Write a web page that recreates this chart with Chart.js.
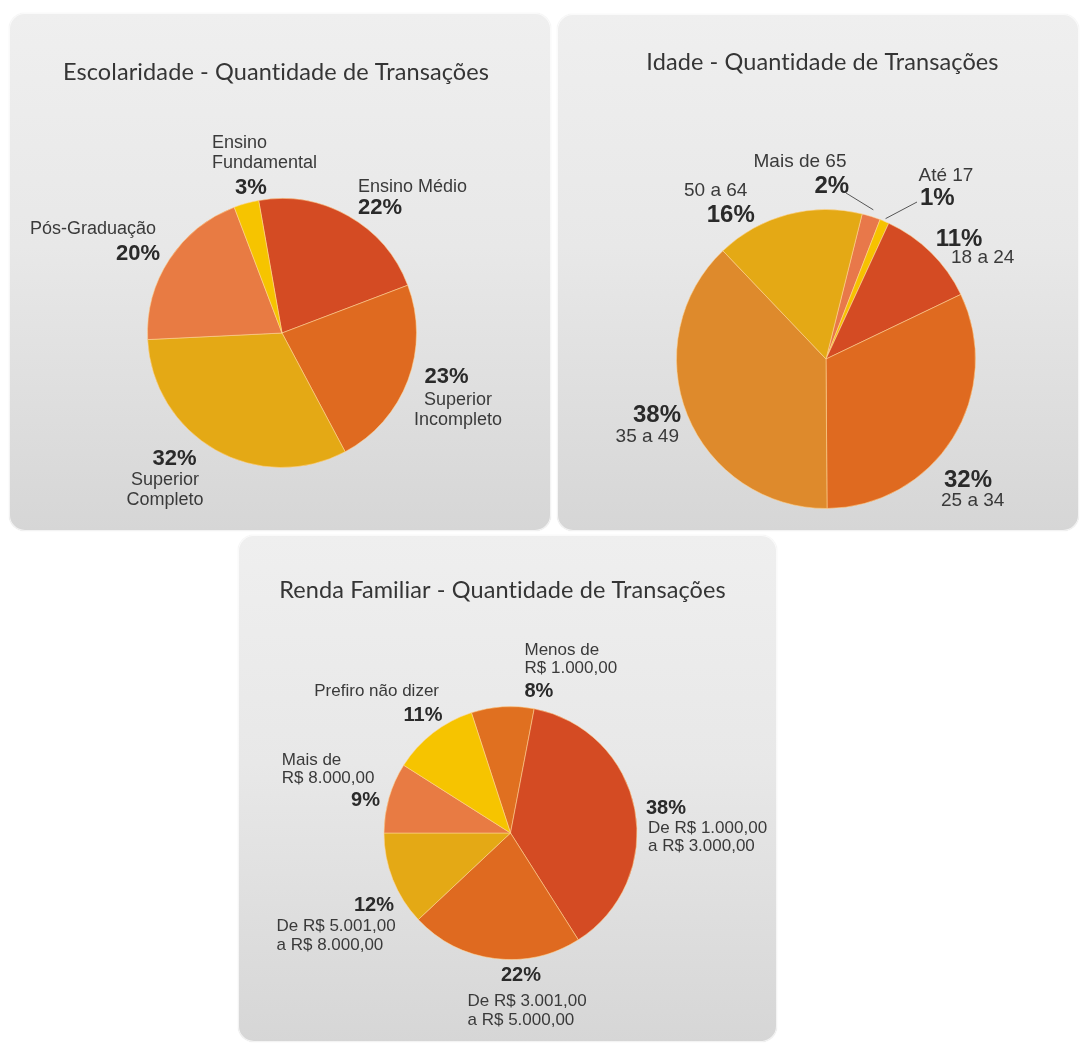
<!DOCTYPE html>
<html>
<head>
<meta charset="utf-8">
<script src="https://cdn.jsdelivr.net/npm/chart.js@4.4.1/dist/chart.umd.min.js"></script>
<style>
  html, body { margin: 0; padding: 0; background: #ffffff; }
  body { width: 1085px; height: 1045px; position: relative; overflow: hidden; }
  .panel {
    position: absolute;
    border-radius: 16px;
    background: linear-gradient(180deg, #efefef 0%, #e8e8e8 45%, #d6d6d6 100%);
    box-shadow: inset 0 0 0 1px rgba(255,255,255,0.7), 0 0 1px rgba(0,0,0,0.15);
    overflow: hidden;
  }
  .panel canvas { position: absolute; left: 0; top: 0; }
</style>
</head>
<body>
<div class="panel" id="p1" style="left:9px;top:13px;width:542px;height:518px;"><canvas id="c1" width="542" height="518"></canvas></div>
<div class="panel" id="p2" style="left:557px;top:14px;width:522px;height:517px;"><canvas id="c2" width="522" height="517"></canvas></div>
<div class="panel" id="p3" style="left:238px;top:535px;width:539px;height:507px;"><canvas id="c3" width="539" height="507"></canvas></div>
<script>
// ---------------- DATA ----------------
const escTitle = 'Escolaridade - Quantidade de Transações';
const escCategories = [['Ensino Médio'], ['Superior', 'Incompleto'], ['Superior', 'Completo'], ['Pós-Graduação'], ['Ensino', 'Fundamental']];
const escValues = [22, 23, 32, 20, 3];

const idadeTitle = 'Idade - Quantidade de Transações';
const idadeCategories = [['Mais de 65'], ['Até 17'], ['18 a 24'], ['25 a 34'], ['35 a 49'], ['50 a 64']];
const idadeValues = [2, 1, 11, 32, 38, 16];

const rendaTitle = 'Renda Familiar - Quantidade de Transações';
const rendaCategories = [['Menos de', 'R$ 1.000,00'], ['De R$ 1.000,00', 'a R$ 3.000,00'], ['De R$ 3.001,00', 'a R$ 5.000,00'], ['De R$ 5.001,00', 'a R$ 8.000,00'], ['Mais de', 'R$ 8.000,00'], ['Prefiro não dizer']];
const rendaValues = [8, 38, 22, 12, 9, 11];

// ---------------- STYLE / LAYOUT ----------------
const escColors = ['#d44b23', '#df6a20', '#e4a915', '#e87b43', '#f6c400'];
const idadeColors = ['#e8784a', '#f6c200', '#d44b23', '#df6a20', '#de8a2c', '#e4a915'];
const rendaColors = ['#e07020', '#d44b23', '#df6a20', '#e4a915', '#e87b43', '#f6c400'];

// label placement relative to the pie centre (px)
const escLayout = [
  {name: {dx: 76, dy: -146, align: 'left'}, pct: {dx: 76, dy: -124.7, align: 'left'}},
  {pct: {dx: 142.6, dy: 43.9, align: 'left'}, name: {dx: 176, dy: 67.4, align: 'center'}},
  {pct: {dx: -107.5, dy: 126.3, align: 'center'}, name: {dx: -117, dy: 147.4, align: 'center'}},
  {name: {dx: -126, dy: -104.3, align: 'right'}, pct: {dx: -122, dy: -79.2, align: 'right'}},
  {name: {dx: -70, dy: -190, align: 'left'}, pct: {dx: -31, dy: -144.6, align: 'center'}}
];
const idadeLayout = [
  {name: {dx: -26, dy: -197, align: 'center'}, pct: {dx: -11.5, dy: -173, align: 'left'}, leader: {dx: 20, dy: -166, gap: 7}},
  {name: {dx: 92.5, dy: -183.4, align: 'left'}, pct: {dx: 94, dy: -161, align: 'left'}, leader: {dx: 91, dy: -157, gap: 3}},
  {pct: {dx: 109.7, dy: -119.7, align: 'left'}, name: {dx: 125, dy: -101, align: 'left'}},
  {pct: {dx: 118, dy: 121, align: 'left'}, name: {dx: 115, dy: 142, align: 'left'}},
  {pct: {dx: -145, dy: 56, align: 'right'}, name: {dx: -147, dy: 78, align: 'right'}},
  {name: {dx: -142, dy: -168, align: 'left'}, pct: {dx: -119.3, dy: -144, align: 'left'}}
];
const rendaLayout = [
  {name: {dx: 14, dy: -183, align: 'left'}, pct: {dx: 14, dy: -141.3, align: 'left'}},
  {pct: {dx: 135.5, dy: -24.7, align: 'left'}, name: {dx: 137.5, dy: -4.7, align: 'left'}},
  {pct: {dx: -9.5, dy: 142, align: 'left'}, name: {dx: -43, dy: 168.7, align: 'left'}},
  {pct: {dx: -116.5, dy: 72, align: 'right'}, name: {dx: -234, dy: 93.7, align: 'left'}},
  {name: {dx: -228.7, dy: -73, align: 'left'}, pct: {dx: -130.5, dy: -33, align: 'right'}},
  {name: {dx: -71.5, dy: -141.3, align: 'right'}, pct: {dx: -68, dy: -118, align: 'right'}}
];

const sliceLabels = {
  id: 'sliceLabels',
  afterDatasetsDraw(chart, args, o) {
    const ctx = chart.ctx;
    const meta = chart.getDatasetMeta(0);
    const first = meta.data[0].getProps(['x', 'y'], true);
    const cx = first.x, cy = first.y;
    ctx.save();
    // title (alphabetic baseline); tiny letter spacing avoids Lato's "ti" ligature
    ctx.fillStyle = '#353535';
    ctx.font = o.titleFont;
    if ('letterSpacing' in ctx) ctx.letterSpacing = '0.1px';
    ctx.textAlign = 'center';
    ctx.textBaseline = 'alphabetic';
    ctx.fillText(o.title, o.titleX, o.titleY);
    if ('letterSpacing' in ctx) ctx.letterSpacing = '0px';
    ctx.textBaseline = 'middle';
    const values = chart.data.datasets[0].data;
    o.layout.forEach((L, i) => {
      const arc = meta.data[i].getProps(['startAngle', 'endAngle', 'outerRadius'], true);
      if (L.leader) {
        const mid = (arc.startAngle + arc.endAngle) / 2;
        const r = arc.outerRadius + L.leader.gap;
        ctx.strokeStyle = '#555';
        ctx.lineWidth = 1;
        ctx.beginPath();
        ctx.moveTo(cx + L.leader.dx, cy + L.leader.dy);
        ctx.lineTo(cx + Math.cos(mid) * r, cy + Math.sin(mid) * r);
        ctx.stroke();
      }
      // name lines
      ctx.fillStyle = '#3a3a3a';
      ctx.font = o.nameFont;
      ctx.textAlign = L.name.align;
      o.names[i].forEach((line, k) => {
        ctx.fillText(line, cx + L.name.dx, cy + L.name.dy + k * o.lineGap);
      });
      // percentage
      ctx.fillStyle = '#2a2a2a';
      ctx.font = o.pctFont;
      ctx.textAlign = L.pct.align;
      ctx.fillText(values[i] + '%', cx + L.pct.dx, cy + L.pct.dy);
    });
    ctx.restore();
  }
};

function makePie(id, cats, values, colors, rotation, pad, labelOpts) {
  return new Chart(document.getElementById(id), {
    type: 'pie',
    data: {
      labels: cats.map(c => c.join(' ')),
      datasets: [{
        data: values,
        backgroundColor: colors,
        borderColor: 'rgba(255,214,150,0.55)',
        borderWidth: 1,
        hoverOffset: 0,
        offset: 0
      }]
    },
    options: {
      responsive: false,
      animation: false,
      rotation: rotation,
      layout: {padding: pad},
      plugins: {
        legend: {display: false},
        tooltip: {enabled: false},
        title: {display: false},
        sliceLabels: Object.assign({names: cats}, labelOpts)
      },
      events: []
    },
    plugins: [sliceLabels]
  });
}

const titleFont = '23.5px Lato, "Open Sans", sans-serif';
makePie('c1', escCategories, escValues, escColors, -10,
  {left: 138, top: 185, right: 134, bottom: 63},
  {title: escTitle, titleX: 267, titleY: 67, titleFont: titleFont,
   layout: escLayout, nameFont: '18px "Liberation Sans", Arial, sans-serif',
   pctFont: 'bold 22px "Liberation Sans", Arial, sans-serif', lineGap: 19.8});
makePie('c2', idadeCategories, idadeValues, idadeColors, 14,
  {left: 119, top: 195, right: 103, bottom: 22},
  {title: idadeTitle, titleX: 265.5, titleY: 56, titleFont: titleFont,
   layout: idadeLayout, nameFont: '19px "Liberation Sans", Arial, sans-serif',
   pctFont: 'bold 24px "Liberation Sans", Arial, sans-serif', lineGap: 20});
makePie('c3', rendaCategories, rendaValues, rendaColors, -18,
  {left: 145.5, top: 171, right: 139.5, bottom: 82},
  {title: rendaTitle, titleX: 264.5, titleY: 63.3, titleFont: titleFont,
   layout: rendaLayout, nameFont: '17px "Liberation Sans", Arial, sans-serif',
   pctFont: 'bold 20px "Liberation Sans", Arial, sans-serif', lineGap: 18.3});
</script>
</body>
</html>
